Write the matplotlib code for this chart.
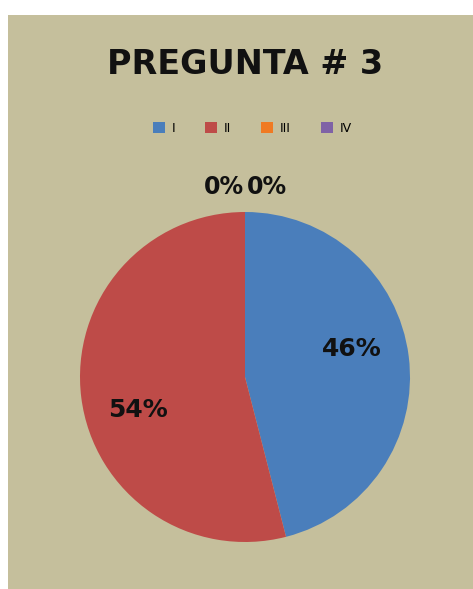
import matplotlib
matplotlib.use("Agg")
import matplotlib.pyplot as plt
from matplotlib.patches import Patch

# data
categories = ["I", "II", "III", "IV"]
values = [46, 54, 0, 0]
colors = ["#4a7ebb", "#be4b48", "#f07a22", "#7f62a6"]
title = "PREGUNTA # 3"
bg = "#c5bf9c"

fig = plt.figure(figsize=(4.73, 5.89), dpi=100, facecolor="white")
# beige chart area (white border on the left and top)
bg_ax = fig.add_axes([8 / 473, 0, 1 - 8 / 473, 1 - 15 / 589])
bg_ax.set_facecolor(bg)
bg_ax.set_xticks([])
bg_ax.set_yticks([])
for s in bg_ax.spines.values():
    s.set_visible(False)

fig.text(245 / 473, 1 - 65 / 589, title, ha="center", va="center",
         fontsize=24, fontweight="bold", color="#111111")

# pie axes: center (245, 377), radius 165 px
r = 165
ax = fig.add_axes([(245 - r) / 473, 1 - (377 + r) / 589, 2 * r / 473, 2 * r / 589])
ax.set_zorder(2)
ax.set_facecolor("none")
wedges, texts, autotexts = ax.pie(values, colors=colors, startangle=90, counterclock=False,
                                  autopct="%1.0f%%", pctdistance=0.68,
                                  wedgeprops=dict(linewidth=0),
                                  textprops=dict(fontsize=18, fontweight="bold", color="#111111"))
ax.set_xlim(-1, 1)
ax.set_ylim(-1, 1)
ax.set_aspect("auto")

# zero slices sit together above the pie in the original
autotexts[2].set_position((-0.13, 1.15))
autotexts[3].set_position((0.13, 1.15))
autotexts[2].set_fontsize(17)
autotexts[3].set_fontsize(17)
autotexts[0].set_position((0.65, 0.17))
autotexts[1].set_position((-0.65, -0.2))
for t in autotexts[2:]:
    t.set_clip_on(False)

handles = [Patch(facecolor=c, edgecolor="none") for c in colors]
leg = fig.legend(handles, categories, loc="center", bbox_to_anchor=(252 / 473, 1 - 128 / 589),
                 ncol=4, frameon=False, fontsize=9, handlelength=1.0, handleheight=1.0,
                 handletextpad=0.5, columnspacing=2.4)
leg.set_zorder(3)

fig.savefig("out.png", dpi=100, facecolor="white")
